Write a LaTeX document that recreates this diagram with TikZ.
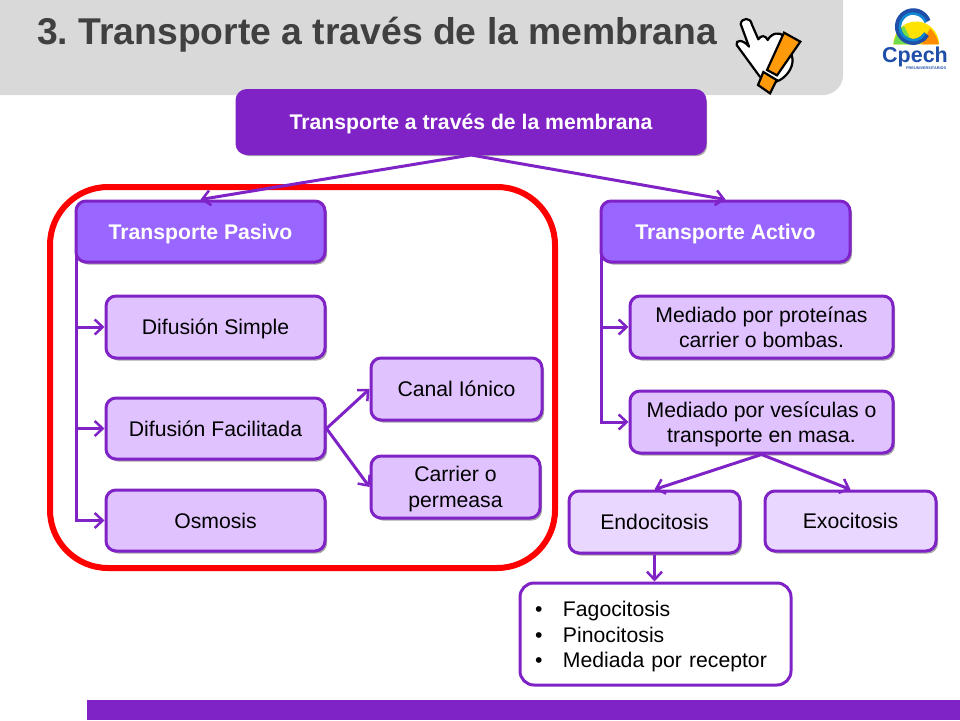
\documentclass[tikz,border=0pt]{standalone}
\usepackage{fontspec}
\setmainfont{Liberation Sans}
\usetikzlibrary{arrows.meta,shadows}
\definecolor{violeta}{HTML}{7F22C6}
\definecolor{pasivo}{HTML}{9966FF}
\definecolor{lila}{HTML}{E0C2FF}
\definecolor{lilaclaro}{HTML}{EAD7FF}
\definecolor{gris}{HTML}{D9D9D9}
\definecolor{titulo}{HTML}{404040}
\definecolor{naranja}{HTML}{FF9A0A}
\definecolor{azulcpech}{HTML}{1F4FA8}
\newcommand{\cajatexto}{\fontsize{21.2}{25.5}\selectfont}
\newcommand{\vineta}{\makebox[28pt][l]{\textbullet}}
\tikzset{
  caja/.style={draw=violeta, line width=3pt, rounded corners=10pt, inner sep=0pt, align=center, text depth=0pt,
    font=\cajatexto, drop shadow={shadow xshift=2pt, shadow yshift=-2.5pt, fill=black, opacity=0.35}},
  cajaoscura/.style={caja, fill=violeta, text=white, font=\cajatexto\bfseries},
  cajapasivo/.style={caja, fill=pasivo, text=white, font=\cajatexto\bfseries},
  cajalila/.style={caja, fill=lila},
  cajaclara/.style={caja, fill=lilaclaro},
  flecha/.style={draw=violeta, line width=3pt, -{Straight Barb[length=8pt,width=15pt,line width=2.5pt]}},
}
\begin{document}
\begin{tikzpicture}[x=1pt,y=-1pt]
  \useasboundingbox (0,0) rectangle (960,720);

  % cabecera y barra inferior
  \fill[gris, rounded corners=20pt] (-30,-30) rectangle (843,95);
  \fill[violeta] (87,700) rectangle (960,720);
  \node[anchor=west, inner sep=0pt, text=titulo, text depth=0pt, font=\fontsize{37.3}{42}\selectfont\bfseries] (titulo) at (37,31) {\frenchspacing 3. Transporte a través de la membrana};

  % marco rojo
  \draw[red, line width=6pt, rounded corners=58pt] (50,187) rectangle (555,568);

  \node[cajaoscura, minimum width=468pt, minimum height=63pt] (raiz) at (471,122) {Transporte a través de la membrana};
  \node[cajapasivo, minimum width=249pt, minimum height=61pt] (tpasivo) at (200.5,231.5) {Transporte Pasivo};
  \node[cajapasivo, minimum width=249pt, minimum height=61pt] (tactivo) at (725.5,231.5) {Transporte Activo};

  \node[cajalila, minimum width=219pt, minimum height=62pt] (simple) at (215.5,327) {Difusión Simple};
  \node[cajalila, minimum width=219pt, minimum height=61pt] (facilitada) at (215.5,428.5) {Difusión Facilitada};
  \node[cajalila, minimum width=219pt, minimum height=61pt] (osmosis) at (215.5,520.5) {Osmosis};
  \node[cajalila, minimum width=171pt, minimum height=62pt] (canal) at (456.5,389) {Canal Iónico};
  \node[cajalila, minimum width=169pt, minimum height=62pt] (carrier) at (455.5,487) {Carrier o\\permeasa};

  \node[cajalila, minimum width=263pt, minimum height=62pt] (proteinas) at (761.5,327) {Mediado por proteínas\\carrier o bombas.};
  \node[cajalila, minimum width=263pt, minimum height=62pt] (vesiculas) at (761.5,422) {Mediado por vesículas o\\transporte en masa.};
  \node[cajaclara, minimum width=171pt, minimum height=62pt] (endo) at (654.5,522) {Endocitosis};
  \node[cajaclara, minimum width=171pt, minimum height=60pt] (exo) at (850.5,521) {Exocitosis};
  \node[draw=violeta, line width=3pt, rounded corners=14pt, fill=white, inner sep=0pt, font=\cajatexto,
    minimum width=271pt, minimum height=102pt, text width=241pt, align=left] (lista) at (655.5,634)
    {\rule{0pt}{20.5pt}\vineta Fagocitosis\\\vineta Pinocitosis\\\vineta Mediada por receptor};

  \foreach \from/\to in {raiz/tpasivo, raiz/tactivo, vesiculas/endo, vesiculas/exo} {
    \draw[flecha] (\from.south) -- (\to.north);
  }
  \foreach \to in {simple, facilitada, osmosis} {
    \draw[flecha] ([xshift=2pt,yshift=9pt]tpasivo.south west) |- (\to.west);
  }
  \foreach \to in {proteinas, vesiculas} {
    \draw[flecha] ([xshift=2pt,yshift=9pt]tactivo.south west) |- (\to.west);
  }
  \foreach \to in {canal, carrier} {
    \draw[flecha] (facilitada.east) -- (\to.west);
  }
  \draw[flecha] (endo.south) -- (endo.south |- lista.north);

  % mano con signo
  \begin{scope}[shift={(700,0)},scale=1/3]
    \draw[fill=white, line width=2.2pt, line join=round] (122,72) .. controls (125,52) and (152,52) .. (155,72) -- (175,118)
      .. controls (182,105) and (197,105) .. (203,120) .. controls (215,98) and (240,95) .. (250,108)
      -- (275,165) .. controls (285,195) and (265,225) .. (240,240) -- (205,255) -- (178,228)
      -- (110,135) .. controls (105,118) and (130,118) .. (147,140) -- cycle;
    \draw[fill=naranja, line width=2.2pt, line join=miter] (252,98) -- (301,125) -- (231,226) -- (201,210) -- cycle;
    \draw[fill=naranja, line width=2.2pt, line join=miter] (190,216) -- (230,240) -- (210,280) -- (174,255) -- cycle;

    % logo
    \fill[yellow!85!orange] (580,133) arc[start angle=180, end angle=360, radius=68.5] -- cycle;
    \fill[green!60!olive!70] (580,133) .. controls (585,105) and (600,85) .. (612,78) -- (640,133) -- cycle;
    \fill[orange!90!yellow] (717,133) .. controls (712,110) and (700,95) .. (690,85) -- (665,133) -- cycle;
    \draw[azulcpech, line width=6pt] (683,64) arc[start angle=-20, end angle=-330, radius=46];
    \draw[cyan!70!blue, line width=2.5pt] (677,67) arc[start angle=-20, end angle=-330, radius=40];
  \end{scope}
  \node[inner sep=0pt, text=azulcpech, text depth=0pt, font=\fontsize{21.5}{22}\selectfont\bfseries] (cpech) at (915,55) {Cpech};
  \node[inner sep=0pt, text=azulcpech, font=\fontsize{3.8}{4}\selectfont\bfseries, anchor=north west] (preu) at (906,66.5) {PREUNIVERSITARIOS};
\end{tikzpicture}
\end{document}
